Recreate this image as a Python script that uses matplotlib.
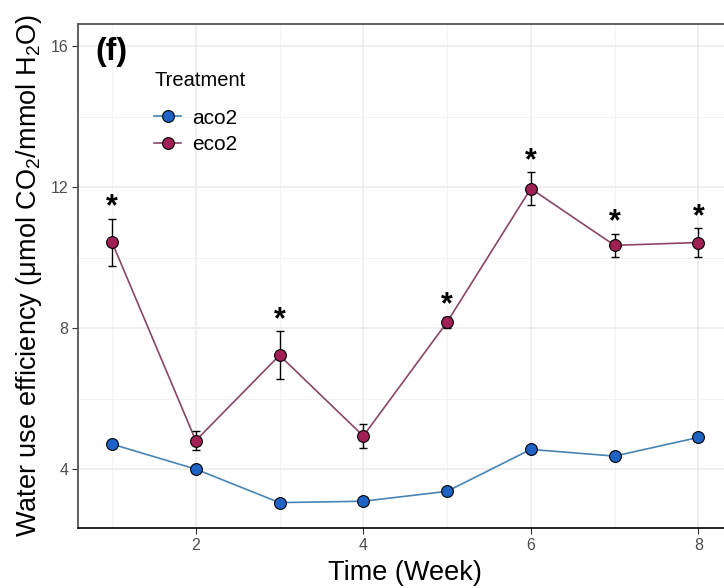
import numpy as np
import matplotlib.pyplot as plt
from matplotlib.ticker import MultipleLocator
from matplotlib.lines import Line2D

plt.rcParams['font.family'] = ['Liberation Sans', 'DejaVu Sans']
plt.rcParams['mathtext.fontset'] = 'custom'
plt.rcParams['mathtext.rm'] = 'Liberation Sans'
plt.rcParams['mathtext.it'] = 'Liberation Sans:italic'
plt.rcParams['mathtext.bf'] = 'Liberation Sans:bold'

# weekly water use efficiency, mean and standard error
weeks = [1, 2, 3, 4, 5, 6, 7, 8]
aco2_mean = [4.71, 4.00, 3.05, 3.09, 3.37, 4.56, 4.37, 4.90]
aco2_se = [0.10, 0.09, 0.08, 0.08, 0.10, 0.10, 0.09, 0.10]
eco2_mean = [10.44, 4.81, 7.23, 4.94, 8.17, 11.96, 10.35, 10.43]
eco2_se = [0.67, 0.26, 0.68, 0.35, 0.16, 0.46, 0.33, 0.40]
signif = [True, False, True, False, True, True, True, True]

aco2_fill, aco2_line = '#1f63c6', '#4784b5'
eco2_fill, eco2_line = '#a01f55', '#8a4567'

fig = plt.figure(figsize=[7.24, 5.88], dpi=100)
ax = fig.add_axes([78/724, 60/588, 653/724, 504/588])

ax.plot(weeks, aco2_mean, color=aco2_line, lw=1.2, zorder=2)
ax.errorbar(weeks, aco2_mean, yerr=aco2_se, fmt='none', ecolor='black',
            elinewidth=1, capsize=3, zorder=3)
ax.plot(weeks, aco2_mean, 'o', ms=8.5, mfc=aco2_fill, mec='black', mew=0.8,
        zorder=4)

ax.plot(weeks, eco2_mean, color=eco2_line, lw=1.2, zorder=2)
ax.errorbar(weeks, eco2_mean, yerr=eco2_se, fmt='none', ecolor='black',
            elinewidth=1, capsize=3, zorder=3)
ax.plot(weeks, eco2_mean, 'o', ms=8.5, mfc=eco2_fill, mec='black', mew=0.8,
        zorder=4)

# significance stars above the eco2 error bars
for w, m, s, sig in zip(weeks, eco2_mean, eco2_se, signif):
    if sig:
        ax.text(w, m + s - 0.1, '*', ha='center', va='bottom',
                fontsize=22, fontweight='bold', color='black')

ax.set_xlim(0.594, 8.39)
ax.set_ylim(2.33, 16.63)
ax.xaxis.set_major_locator(MultipleLocator(2))
ax.xaxis.set_minor_locator(MultipleLocator(1))
ax.yaxis.set_major_locator(MultipleLocator(4))
ax.yaxis.set_minor_locator(MultipleLocator(2))
ax.grid(which='major', color='#ebebeb', lw=1.1, zorder=0)
ax.grid(which='minor', color='#f2f2f2', lw=0.7, zorder=0)
ax.set_axisbelow(True)
ax.tick_params(which='major', length=4, color='#333333', labelsize=11.5,
               labelcolor='#4d4d4d', pad=3)
ax.tick_params(which='minor', length=0)

for side in ['top', 'left']:
    ax.spines[side].set_color('#555555')
    ax.spines[side].set_linewidth(1.3)
ax.spines['bottom'].set_color('black')
ax.spines['bottom'].set_linewidth(1.2)
ax.spines['right'].set_visible(False)

ax.set_xlabel('Time (Week)', fontsize=19.5, labelpad=5)
ax.set_ylabel('Water use efficiency (μmol CO$_2$/mmol H$_2$O)', fontsize=19.5,
              labelpad=5)

ax.text(17/653, 1 - 13/504, '(f)', transform=ax.transAxes, fontsize=23,
        fontweight='bold', va='top', ha='left')

handles = [
    Line2D([], [], color=aco2_line, lw=1.2, marker='o', ms=8.5,
           mfc=aco2_fill, mec='black', mew=0.8),
    Line2D([], [], color=eco2_line, lw=1.2, marker='o', ms=8.5,
           mfc=eco2_fill, mec='black', mew=0.8),
]
leg = ax.legend(handles, ['aco2', 'eco2'], title='Treatment',
                loc='upper left', bbox_to_anchor=(0.088, 0.943),
                frameon=False, fontsize=15, title_fontsize=14.5,
                handlelength=1.3, handletextpad=0.5, labelspacing=0.35)
leg._legend_box.align = 'left'
# extra room between the legend title and its entries
leg._legend_box.sep = 13

fig.savefig('out.png', dpi=100)
